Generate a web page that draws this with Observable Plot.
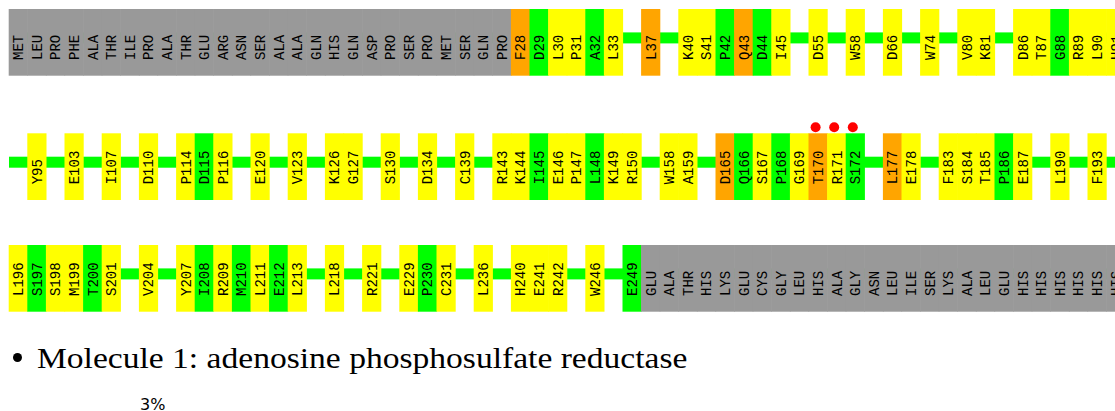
<!DOCTYPE html>
<html>
<head>
<meta charset="utf-8">
<script src="https://cdn.jsdelivr.net/npm/d3@7"></script>
<script src="https://cdn.jsdelivr.net/npm/@observablehq/plot@0.6"></script>
<style>
  html, body { margin: 0; padding: 0; background: #fff; }
  body { width: 1115px; height: 411px; overflow: hidden; position: relative; }
  #chart { position: absolute; left: 0; top: 0; }
  #bullet { position: absolute; left: 13px; top: 353px; width: 9px; height: 9px; border-radius: 50%; background: #000; }
  #title { position: absolute; left: 37px; top: 344px; font-family: "Liberation Serif", serif; font-size: 29px; line-height: 29px; white-space: nowrap; color: #000; transform: scaleX(1.157); transform-origin: 0 0; }
  #pct { position: absolute; left: 140px; top: 397px; font-family: "DejaVu Sans", sans-serif; font-size: 16px; line-height: 16px; color: #000; }
</style>
</head>
<body>
<div id="chart"></div>
<div id="bullet"></div>
<div id="title">Molecule 1: adenosine phosphosulfate reductase</div>
<div id="pct">3%</div>
<script>
// ---- data ----
// unobserved residues (grey)
const nTermUnobserved = ["MET","LEU","PRO","PHE","ALA","THR","ILE","PRO","ALA","THR","GLU","ARG","ASN","SER","ALA","ALA","GLN","HIS","GLN","ASP","PRO","SER","PRO","MET","SER","GLN","PRO"];
const cTermUnobserved = ["GLU","ALA","THR","HIS","LYS","GLU","CYS","GLY","LEU","HIS","ALA","GLY","ASN","LEU","ILE","SER","LYS","ALA","LEU","GLU","HIS","HIS","HIS","HIS","HIS","HIS"];
// observed residues per row (null = collapsed stretch without outliers)
const row1Residues = ["F28","D29","L30","P31","A32","L33",null,"L37",null,"K40","S41","P42","Q43","D44","I45",null,"D55",null,"W58",null,"D66",null,"W74",null,"V80","K81",null,"D86","T87","G88","R89","L90","H91"];
const row1Outliers = [2,0,1,1,0,1,null,2,null,1,1,0,2,0,1,null,1,null,1,null,1,null,1,null,1,1,null,1,1,0,1,1,1];
const row2Residues = [null,"Y95",null,"E103",null,"I107",null,"D110",null,"P114","D115","P116",null,"E120",null,"V123",null,"K126","G127",null,"S130",null,"D134",null,"C139",null,"R143","K144","I145","E146","P147","L148","K149","R150",null,"W158","A159",null,"D165","Q166","S167","P168","G169","T170","R171","S172",null,"L177","E178",null,"F183","S184","T185","P186","E187",null,"L190",null,"F193",null];
const row2Outliers = [null,1,null,1,null,1,null,1,null,1,0,1,null,1,null,1,null,1,1,null,1,null,1,null,1,null,1,1,0,1,1,0,1,1,null,1,1,null,2,0,1,0,1,2,1,0,null,2,1,null,1,1,1,0,1,null,1,null,1,null];
const row3Residues = ["L196","S197","S198","M199","T200","S201",null,"V204",null,"Y207","I208","R209","M210","L211","E212","L213",null,"L218",null,"R221",null,"E229","P230","C231",null,"L236",null,"H240","E241","R242",null,"W246",null,"E249"];
const row3Outliers = [1,0,1,1,0,1,null,1,null,1,0,1,0,1,0,1,null,1,null,1,null,1,0,1,null,1,null,1,1,1,null,1,null,0];
// residues with the red-dot marker
const markedResidues = ["T170","R171","S172"];

// ---- layout ----
const W = 1115, H = 320;
const cellW = 18.6, x0 = 9;
const rowTops = [9, 133.3, 245];
const rowH = 66.7;
const lineTop = 23.4, lineH = 11;
const slotsPerRow = 60;

// build table
const rows = [
  {labels: [...nTermUnobserved, ...row1Residues], outl: [...nTermUnobserved.map(() => "u"), ...row1Outliers]},
  {labels: row2Residues, outl: row2Outliers},
  {labels: [...row3Residues, ...cTermUnobserved], outl: [...row3Outliers, ...cTermUnobserved.map(() => "u")]}
];
const cells = [];
rows.forEach((r, ri) => {
  r.labels.forEach((lab, i) => {
    if (lab == null) return;
    cells.push({row: ri, slot: i, label: lab, kind: r.outl[i] === "u" ? "u" : String(r.outl[i])});
  });
});
const lines = rows.map((r, ri) => ({row: ri}));
const dots = cells.filter(c => markedResidues.includes(c.label));

const colorOf = {"u": "#999999", "0": "#00ff00", "1": "#ffff00", "2": "#ffa500", "3": "#ff0000"};

const plot = Plot.plot({
  width: W, height: H,
  margin: 0,
  style: {background: "#fff", fontFamily: "'Liberation Mono', monospace"},
  x: {domain: [0, slotsPerRow], range: [x0, x0 + slotsPerRow * cellW], axis: null},
  y: {domain: [0, H], range: [0, H], axis: null},
  marks: [
    Plot.rect(lines, {x1: 0, x2: slotsPerRow, y1: d => rowTops[d.row] + lineTop, y2: d => rowTops[d.row] + lineTop + lineH, fill: "#00ff00"}),
    Plot.rect(cells, {x1: d => d.slot, x2: d => d.slot + 1, y1: d => rowTops[d.row], y2: d => rowTops[d.row] + rowH, fill: d => colorOf[d.kind], insetLeft: -0.3, insetRight: -0.3}),
    Plot.text(cells, {x: d => d.slot + 0.5, y: d => rowTops[d.row] + 50.5, text: "label", rotate: -90, textAnchor: "start", lineAnchor: "middle", fontSize: 14, fill: "#000"}),
    Plot.dot(dots, {x: d => d.slot + 0.5, y: d => rowTops[d.row] - 6.6, r: 5, fill: "#ff0000", dx: -3})
  ]
});
document.getElementById("chart").appendChild(plot);
</script>
</body>
</html>
